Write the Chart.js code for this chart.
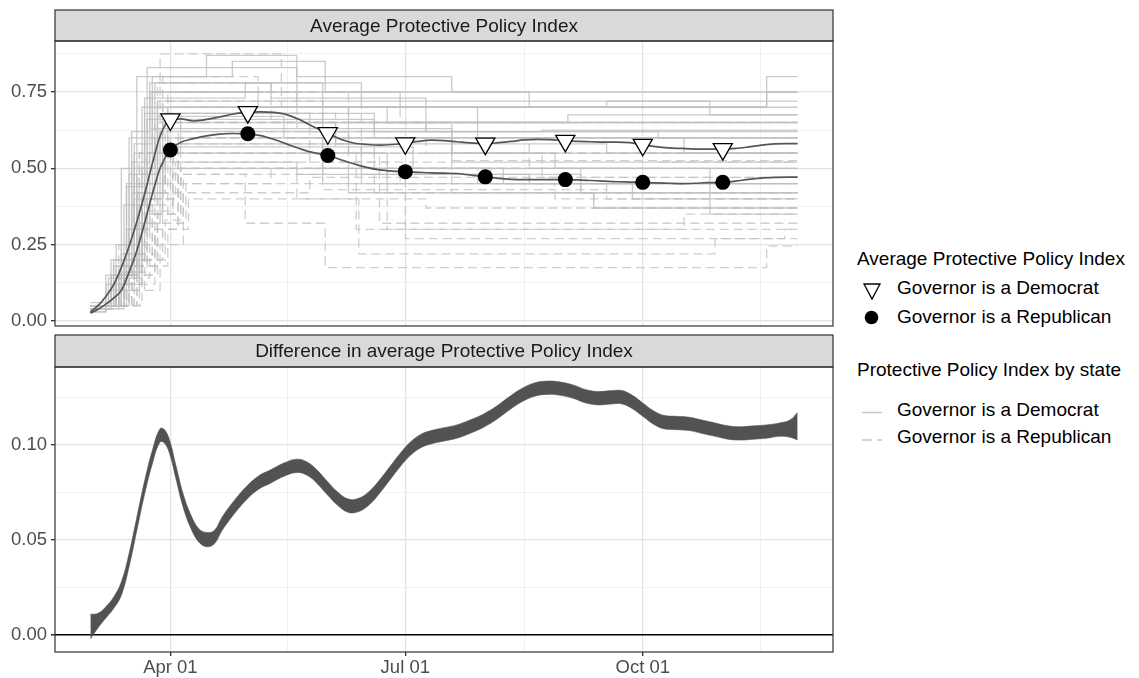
<!DOCTYPE html>
<html>
<head>
<meta charset="utf-8">
<script src="https://cdn.jsdelivr.net/npm/chart.js@4.4.0/dist/chart.umd.min.js"></script>
<style>
  body { margin: 0; background: #fff; font-family: "Liberation Sans", Arial, sans-serif; }
  #wrap { position: relative; width: 1139px; height: 678px; overflow: hidden; }
  canvas { position: absolute; left: 0; }
  #topChart { top: 0; }
  #bottomChart { top: 334px; }
  .lg { position: absolute; font-size: 19px; line-height: 22px; color: #000; white-space: nowrap; }
  .ic { position: absolute; }
</style>
</head>
<body>
<div id="wrap">
  <canvas id="topChart" width="840" height="334"></canvas>
  <canvas id="bottomChart" width="840" height="344"></canvas>

  <div class="lg" style="left:857px;top:248px">Average Protective Policy Index</div>
  <svg class="ic" style="left:862px;top:281px" width="22" height="20"><polygon points="2,3 18,3 10,18" fill="#fff" stroke="#000" stroke-width="1.3"/></svg>
  <div class="lg" style="left:897px;top:277px">Governor is a Democrat</div>
  <svg class="ic" style="left:862px;top:308px" width="20" height="20"><circle cx="9.5" cy="9.5" r="6.8" fill="#000"/></svg>
  <div class="lg" style="left:897px;top:306px">Governor is a Republican</div>

  <div class="lg" style="left:857px;top:359px">Protective Policy Index by state</div>
  <svg class="ic" style="left:860px;top:405px" width="26" height="14"><line x1="2" y1="7.5" x2="22" y2="7.5" stroke="#c8c8c8" stroke-width="1.5"/></svg>
  <div class="lg" style="left:897px;top:399px">Governor is a Democrat</div>
  <svg class="ic" style="left:860px;top:433px" width="26" height="14"><line x1="2" y1="7" x2="22" y2="7" stroke="#c8c8c8" stroke-width="1.5" stroke-dasharray="10,5"/></svg>
  <div class="lg" style="left:897px;top:426px">Governor is a Republican</div>
</div>

<script>
// day of year 2020 (Jan 01 = 0): Mar 01 = 60, Apr 01 = 91, Jul 01 = 182, Oct 01 = 274, Nov 30 = 334
const xTickDays = [91, 182, 274];
const xTickLabels = ['Apr 01', 'Jul 01', 'Oct 01'];
const xMinorDays = [136.5, 228, 319.5];

const topTicks = [0, 0.25, 0.5, 0.75];
const topTickLabels = ['0.00', '0.25', '0.50', '0.75'];
const topMinor = [0.125, 0.375, 0.625, 0.875];

const bottomTicks = [0, 0.05, 0.10];
const bottomTickLabels = ['0.00', '0.05', '0.10'];
const bottomMinor = [0.025, 0.075, 0.125];

// smoothed averages, markers on the first of each month
const smoothDays = [60,63,66,69,72,75,78,81,84,87,91,95,100,105,110,115,121,126,131,136,141,146,152,157,162,167,172,177,182,187,192,197,202,207,213,218,223,228,233,238,244,249,254,259,264,269,274,279,284,289,294,299,305,310,315,320,325,330,334];
const demSmooth = [0.030,0.050,0.080,0.118,0.175,0.245,0.325,0.415,0.515,0.605,0.660,0.662,0.655,0.660,0.668,0.677,0.684,0.685,0.683,0.676,0.660,0.638,0.615,0.595,0.583,0.578,0.576,0.578,0.582,0.588,0.592,0.591,0.587,0.583,0.581,0.584,0.588,0.593,0.595,0.594,0.590,0.588,0.587,0.586,0.586,0.584,0.577,0.571,0.567,0.565,0.563,0.563,0.563,0.565,0.570,0.576,0.580,0.581,0.581];
const repSmooth = [0.026,0.038,0.055,0.075,0.100,0.160,0.230,0.320,0.415,0.500,0.560,0.585,0.597,0.606,0.612,0.614,0.613,0.607,0.595,0.580,0.565,0.552,0.542,0.528,0.515,0.503,0.495,0.491,0.489,0.487,0.485,0.484,0.483,0.478,0.472,0.467,0.464,0.463,0.463,0.463,0.463,0.462,0.460,0.458,0.456,0.455,0.454,0.452,0.451,0.450,0.451,0.453,0.454,0.458,0.464,0.468,0.470,0.471,0.471];
const markerDays = [91, 121, 152, 182, 213, 244, 274, 305];

// state index by party of governor: [day, value] change points
const demStates = [
  [[60,.05],[70,.15],[77,.55],[84,.80],[115,.85],[151,.75],[230,.70],[322,.80],[334,.80]],
  [[60,.05],[68,.20],[75,.60],[82,.83],[140,.80],[200,.75],[334,.75]],
  [[60,.05],[72,.25],[78,.50],[85,.78],[130,.73],[190,.70],[334,.70]],
  [[60,.03],[66,.12],[74,.45],[80,.70],[160,.65],[245,.675],[334,.675]],
  [[60,.05],[69,.18],[76,.52],[83,.75],[125,.70],[175,.65],[334,.65]],
  [[60,.05],[71,.15],[79,.45],[86,.72],[150,.62],[334,.62]],
  [[60,.05],[67,.10],[73,.38],[81,.68],[145,.65],[210,.60],[334,.60]],
  [[60,.05],[70,.14],[78,.42],[88,.65],[155,.58],[260,.55],[334,.55]],
  [[60,.04],[68,.15],[75,.48],[82,.66],[170,.60],[290,.55],[334,.55]],
  [[60,.05],[72,.22],[80,.50],[87,.62],[160,.55],[240,.50],[334,.50]],
  [[60,.05],[69,.12],[77,.40],[85,.60],[150,.50],[220,.45],[334,.45]],
  [[60,.05],[73,.20],[81,.45],[89,.58],[165,.48],[250,.42],[334,.42]],
  [[60,.05],[71,.16],[79,.38],[86,.55],[175,.45],[270,.40],[334,.40]],
  [[60,.03],[66,.15],[72,.50],[78,.80],[105,.87],[140,.70],[210,.65],[334,.65]],
  [[60,.05],[70,.25],[76,.62],[83,.78],[150,.72],[300,.675],[334,.675]],
  [[60,.05],[74,.30],[82,.60],[90,.70],[190,.62],[280,.60],[334,.60]],
  [[60,.06],[68,.15],[76,.42],[84,.63],[200,.55],[334,.55]],
  [[60,.05],[72,.12],[80,.35],[88,.52],[140,.48],[230,.45],[334,.45]],
  [[60,.05],[75,.30],[83,.55],[95,.68],[170,.62],[235,.625],[334,.625]],
  [[60,.05],[69,.20],[77,.58],[84,.75],[180,.70],[322,.75],[334,.75]],
  [[60,.04],[71,.18],[78,.48],[86,.67],[135,.60],[200,.52],[334,.52]],
  [[60,.05],[70,.10],[79,.32],[87,.50],[160,.42],[255,.37],[334,.37]],
  [[60,.05],[67,.14],[74,.44],[81,.73],[120,.78],[165,.70],[260,.72],[334,.72]],
  [[60,.05],[73,.16],[80,.40],[88,.57],[185,.50],[300,.35],[334,.35]]
];
const repStates = [
  [[60,.05],[71,.18],[79,.55],[87,.875],[134,.70],[180,.65],[334,.65]],
  [[60,.05],[73,.22],[81,.60],[88,.80],[125,.75],[160,.60],[334,.60]],
  [[60,.04],[70,.15],[78,.48],[86,.78],[130,.65],[190,.55],[334,.55]],
  [[60,.05],[74,.20],[82,.55],[90,.75],[140,.62],[200,.525],[334,.525]],
  [[60,.05],[72,.12],[80,.40],[88,.72],[150,.60],[230,.50],[334,.50]],
  [[60,.05],[76,.20],[84,.35],[92,.48],[120,.32],[151,.175],[322,.245],[334,.245]],
  [[60,.05],[71,.15],[80,.45],[89,.68],[155,.55],[235,.47],[334,.47]],
  [[60,.05],[73,.18],[82,.42],[91,.65],[145,.50],[215,.45],[334,.45]],
  [[60,.05],[76,.22],[85,.45],[94,.62],[160,.50],[250,.42],[334,.42]],
  [[60,.05],[72,.10],[81,.35],[90,.60],[165,.45],[240,.40],[334,.40]],
  [[60,.05],[77,.20],[86,.40],[94,.60],[150,.45],[260,.40],[334,.40]],
  [[60,.05],[74,.14],[83,.38],[92,.58],[170,.42],[255,.37],[334,.37]],
  [[60,.05],[78,.25],[88,.42],[95,.55],[163,.30],[290,.35],[334,.35]],
  [[60,.04],[73,.16],[82,.36],[92,.55],[172,.32],[334,.32]],
  [[60,.05],[75,.20],[84,.40],[93,.52],[175,.30],[334,.30]],
  [[60,.05],[76,.18],[86,.35],[95,.50],[182,.27],[329,.30],[334,.30]],
  [[60,.05],[74,.12],[85,.30],[94,.50],[140,.40],[164,.22],[302,.27],[334,.27]],
  [[60,.05],[78,.20],[88,.32],[96,.48],[150,.52],[200,.42],[334,.42]],
  [[60,.05],[75,.15],[85,.30],[94,.45],[130,.50],[210,.45],[334,.45]],
  [[60,.05],[79,.20],[89,.33],[97,.45],[180,.50],[334,.50]],
  [[60,.05],[77,.10],[87,.25],[96,.42],[145,.47],[334,.47]],
  [[60,.05],[80,.18],[90,.30],[98,.40],[190,.37],[334,.37]],
  [[60,.05],[70,.20],[77,.50],[85,.65],[200,.55],[334,.55]],
  [[60,.05],[71,.25],[79,.55],[86,.70],[165,.60],[334,.60]],
  [[60,.05],[72,.18],[81,.42],[89,.55],[170,.50],[280,.52],[334,.52]],
  [[60,.05],[76,.15],[86,.35],[95,.50],[150,.43],[260,.42],[334,.42]]
];

// difference band (Democrat minus Republican), lower and upper edges
const diffDays = [60,63,66,69,72,75,78,81,84,87,89,91,93,96,99,102,105,108,111,115,120,125,130,135,140,144,148,152,156,160,164,168,172,176,180,184,188,192,197,202,207,212,217,222,227,232,237,242,247,252,257,262,266,270,274,278,282,287,292,297,302,307,312,317,322,327,331,334];
const diffLow = [-0.002,0.004,0.009,0.014,0.021,0.036,0.055,0.074,0.090,0.1015,0.1005,0.094,0.083,0.067,0.056,0.049,0.0465,0.048,0.055,0.0625,0.0705,0.0765,0.080,0.0835,0.0855,0.084,0.0795,0.0735,0.068,0.0645,0.065,0.0685,0.0745,0.0815,0.0885,0.0945,0.0985,0.1005,0.102,0.1035,0.106,0.109,0.113,0.118,0.1225,0.1255,0.1265,0.126,0.1245,0.122,0.121,0.1215,0.1215,0.119,0.115,0.111,0.1085,0.108,0.1075,0.106,0.1045,0.103,0.1025,0.103,0.1035,0.1045,0.104,0.1026];
const diffHigh = [0.011,0.0115,0.015,0.020,0.028,0.043,0.062,0.081,0.097,0.1085,0.1075,0.101,0.090,0.074,0.063,0.056,0.054,0.055,0.062,0.0695,0.0775,0.0835,0.087,0.0905,0.0925,0.091,0.0865,0.0805,0.075,0.0715,0.072,0.0755,0.0815,0.0885,0.0955,0.1015,0.1055,0.1075,0.109,0.1105,0.113,0.116,0.120,0.125,0.1295,0.1325,0.1335,0.133,0.1315,0.129,0.128,0.1285,0.1285,0.126,0.122,0.118,0.1155,0.115,0.1145,0.113,0.1115,0.110,0.1095,0.110,0.1105,0.1115,0.113,0.117];

Chart.defaults.font.family = '"Liberation Sans", Arial, sans-serif';
Chart.defaults.animation = false;

const AXIS_TEXT = '#4d4d4d';
const FRAME = '#333333';

// grey strip on top of each panel + panel frame
const panelPlugin = {
  id: 'panel',
  beforeDraw(chart, args, opts) {
    const { ctx, chartArea: a } = chart;
    ctx.save();
    ctx.fillStyle = '#d9d9d9';
    ctx.fillRect(a.left, opts.stripTop, a.right - a.left, a.top - opts.stripTop);
    ctx.restore();
  },
  afterDraw(chart, args, opts) {
    const { ctx, chartArea: a } = chart;
    ctx.save();
    ctx.strokeStyle = FRAME;
    ctx.lineWidth = 1.2;
    ctx.strokeRect(a.left, opts.stripTop, a.right - a.left, a.top - opts.stripTop);
    ctx.strokeRect(a.left, a.top, a.right - a.left, a.bottom - a.top);
    ctx.fillStyle = '#1a1a1a';
    ctx.font = '19px "Liberation Sans", Arial, sans-serif';
    ctx.textAlign = 'center';
    ctx.textBaseline = 'middle';
    ctx.fillText(opts.text, (a.left + a.right) / 2, (opts.stripTop + a.top) / 2 + 1);
    ctx.restore();
  }
};

function xScale(showLabels) {
  return {
    type: 'linear',
    min: 46.3,
    max: 347.7,
    afterBuildTicks: s => {
      s.ticks = xTickDays.concat(xMinorDays).sort((a, b) => a - b).map(v => ({ value: v }));
    },
    afterFit: s => {
      s.height = showLabels ? 26 : 8;
      s.paddingLeft = 0; s.paddingRight = 0;
    },
    ticks: {
      display: showLabels,
      autoSkip: false,
      maxRotation: 0,
      padding: 1,
      color: AXIS_TEXT,
      font: { size: 18.5 },
      callback: v => {
        const i = xTickDays.indexOf(v);
        return i >= 0 ? xTickLabels[i] : '';
      }
    },
    grid: {
      color: c => xTickDays.includes(c.tick.value) ? '#e3e3e3' : '#efefef',
      lineWidth: c => xTickDays.includes(c.tick.value) ? 1.3 : 0.9,
      drawTicks: showLabels,
      tickLength: 4,
      tickColor: c => xTickDays.includes(c.tick.value) ? FRAME : 'rgba(0,0,0,0)'
    },
    border: { display: false }
  };
}

function yScale(min, max, major, labels, minor, zeroLine) {
  return {
    type: 'linear',
    min: min,
    max: max,
    afterBuildTicks: s => {
      s.ticks = major.concat(minor).sort((a, b) => a - b).map(v => ({ value: v }));
    },
    afterFit: s => {
      s.width = 55;
      s.paddingTop = 0; s.paddingBottom = 0;
    },
    ticks: {
      autoSkip: false,
      padding: 4,
      color: AXIS_TEXT,
      font: { size: 18.5 },
      callback: v => {
        const i = major.indexOf(v);
        return i >= 0 ? labels[i] : '';
      }
    },
    grid: {
      color: c => {
        if (zeroLine && c.tick.value === 0) return '#000';
        return major.includes(c.tick.value) ? '#e3e3e3' : '#efefef';
      },
      lineWidth: c => {
        if (zeroLine && c.tick.value === 0) return 1.6;
        return major.includes(c.tick.value) ? 1.3 : 0.9;
      },
      drawTicks: true,
      tickLength: 4,
      tickColor: c => major.includes(c.tick.value) ? FRAME : 'rgba(0,0,0,0)'
    },
    border: { display: false }
  };
}

// ---- top panel ----
const topDatasets = [];
topDatasets.push({
  data: smoothDays.map((d, i) => ({ x: d, y: demSmooth[i] })),
  borderColor: '#555555',
  borderWidth: 1.7,
  tension: 0.4,
  cubicInterpolationMode: 'monotone',
  pointStyle: 'triangle',
  pointRotation: 180,
  pointRadius: c => markerDays.includes(smoothDays[c.dataIndex]) ? 11 : 0,
  pointBackgroundColor: '#ffffff',
  pointBorderColor: '#000000',
  pointBorderWidth: 1.3,
  order: 0
});
topDatasets.push({
  data: smoothDays.map((d, i) => ({ x: d, y: repSmooth[i] })),
  borderColor: '#555555',
  borderWidth: 1.7,
  tension: 0.4,
  cubicInterpolationMode: 'monotone',
  pointStyle: 'circle',
  pointRadius: c => markerDays.includes(smoothDays[c.dataIndex]) ? 7.5 : 0,
  pointBackgroundColor: '#000000',
  pointBorderColor: '#000000',
  pointBorderWidth: 0,
  order: 0
});
demStates.forEach(s => {
  topDatasets.push({
    data: s.map(p => ({ x: p[0], y: p[1] })),
    borderColor: 'rgba(190,190,190,0.8)',
    borderWidth: 1.3,
    stepped: 'before',
    pointRadius: 0,
    order: 2
  });
});
repStates.forEach(s => {
  topDatasets.push({
    data: s.map(p => ({ x: p[0], y: p[1] })),
    borderColor: 'rgba(195,195,195,0.8)',
    borderWidth: 1.3,
    borderDash: [9, 5],
    stepped: 'before',
    pointRadius: 0,
    order: 2
  });
});

new Chart(document.getElementById('topChart'), {
  type: 'line',
  data: { datasets: topDatasets },
  options: {
    responsive: false,
    devicePixelRatio: 1,
    layout: { padding: { top: 41, right: 7, left: 0, bottom: 0 } },
    plugins: {
      legend: { display: false },
      tooltip: { enabled: false },
      panel: { stripTop: 10, text: 'Average Protective Policy Index' }
    },
    events: [],
    scales: {
      x: xScale(false),
      y: yScale(-0.0165, 0.917, topTicks, topTickLabels, topMinor, false)
    }
  },
  plugins: [panelPlugin]
});

// ---- bottom panel ----
new Chart(document.getElementById('bottomChart'), {
  type: 'line',
  data: {
    datasets: [
      {
        data: diffDays.map((d, i) => ({ x: d, y: diffLow[i] })),
        borderColor: '#525252',
        borderWidth: 0.6,
        tension: 0.4,
        pointRadius: 0,
        fill: false
      },
      {
        data: diffDays.map((d, i) => ({ x: d, y: diffHigh[i] })),
        borderColor: '#525252',
        backgroundColor: '#525252',
        borderWidth: 0.6,
        tension: 0.4,
        pointRadius: 0,
        fill: '-1'
      }
    ]
  },
  options: {
    responsive: false,
    devicePixelRatio: 1,
    layout: { padding: { top: 33, right: 7, left: 0, bottom: 0 } },
    plugins: {
      legend: { display: false },
      tooltip: { enabled: false },
      panel: { stripTop: 1, text: 'Difference in average Protective Policy Index' }
    },
    events: [],
    scales: {
      x: xScale(true),
      y: yScale(-0.0088, 0.1409, bottomTicks, bottomTickLabels, bottomMinor, true)
    }
  },
  plugins: [panelPlugin]
});
</script>
</body>
</html>
